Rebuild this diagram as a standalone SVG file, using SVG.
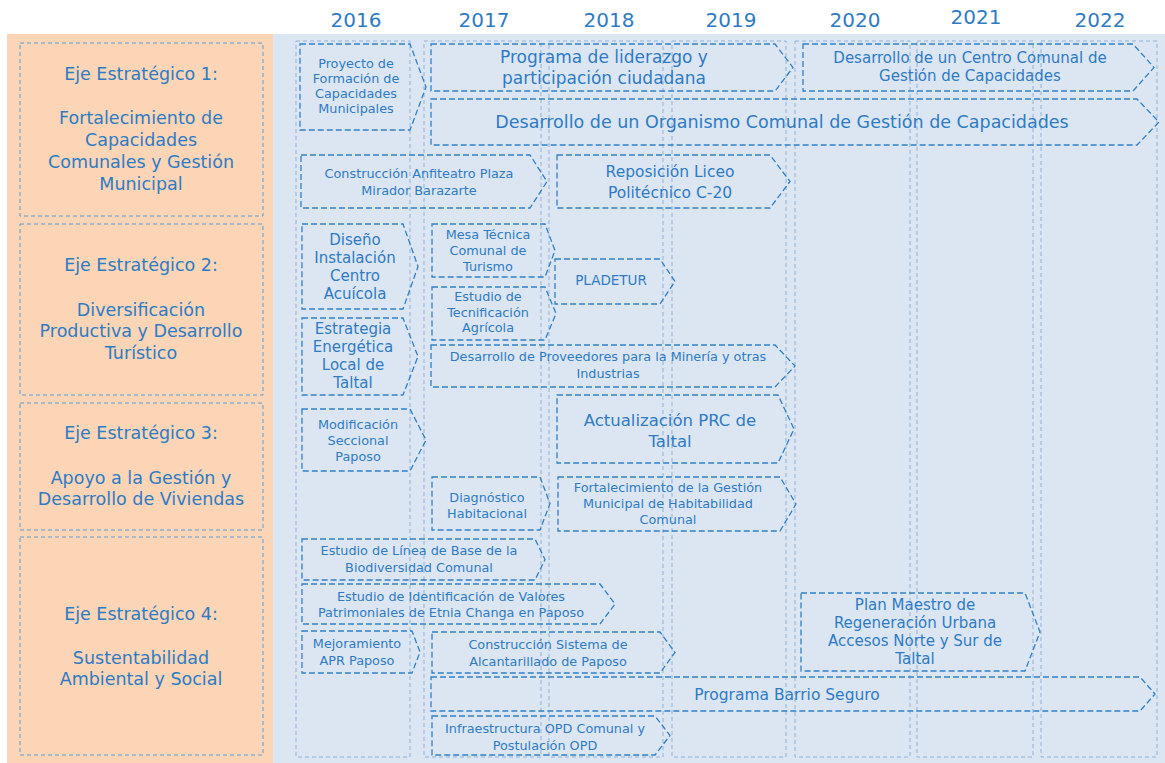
<svg xmlns="http://www.w3.org/2000/svg" width="1165" height="763" viewBox="0 0 1165 763">
<style>
text{font-family:"DejaVu Sans","Liberation Sans",sans-serif;fill:#2E7BC4;text-anchor:middle}
.yr{font-size:20px}
.eje{font-size:17.5px}
.s{font-size:12.8px}
.m{font-size:15px}
.l{font-size:17px}
.col{fill:none;stroke:#8FB1DA;stroke-width:1;stroke-dasharray:4 3}
.ebox{fill:none;stroke:#5B9BD5;stroke-width:1;stroke-dasharray:4 3}
.task polygon{fill:none;stroke:#3080C8;stroke-width:1.3;stroke-dasharray:6 3}
</style>
<rect x="0" y="0" width="1165" height="763" fill="#FFFFFF"/>
<rect x="7" y="34" width="266" height="729" fill="#FBD5B5"/>
<rect x="273" y="34" width="892" height="729" fill="#DCE6F2"/>

<g id="years">
<text class="yr" x="356" y="27">2016</text>
<text class="yr" x="484" y="27">2017</text>
<text class="yr" x="609" y="27">2018</text>
<text class="yr" x="731" y="27">2019</text>
<text class="yr" x="855" y="27">2020</text>
<text class="yr" x="976" y="24">2021</text>
<text class="yr" x="1100" y="27">2022</text>
</g>

<g id="columns">
<rect class="col" x="296" y="41" width="114" height="716"/>
<rect class="col" x="424" y="41" width="117" height="716"/>
<rect class="col" x="549" y="41" width="114" height="716"/>
<rect class="col" x="672" y="41" width="114" height="716"/>
<rect class="col" x="795" y="41" width="115" height="716"/>
<rect class="col" x="917" y="41" width="116" height="716"/>
<rect class="col" x="1041" y="41" width="116" height="716"/>
</g>

<g id="eje1">
<rect class="ebox" x="20" y="43" width="243" height="173"/>
<text class="eje" x="141" y="80">Eje Estratégico 1:</text>
<text class="eje" x="141" y="124">Fortalecimiento de</text>
<text class="eje" x="141" y="146">Capacidades</text>
<text class="eje" x="141" y="168">Comunales y Gestión</text>
<text class="eje" x="141" y="190">Municipal</text>
</g>
<g id="eje2">
<rect class="ebox" x="20" y="224" width="243" height="171"/>
<text class="eje" x="141" y="271">Eje Estratégico 2:</text>
<text class="eje" x="141" y="316">Diversificación</text>
<text class="eje" x="141" y="337">Productiva y Desarrollo</text>
<text class="eje" x="141" y="359">Turístico</text>
</g>
<g id="eje3">
<rect class="ebox" x="20" y="403" width="243" height="127"/>
<text class="eje" x="141" y="439">Eje Estratégico 3:</text>
<text class="eje" x="141" y="484">Apoyo a la Gestión y</text>
<text class="eje" x="141" y="505">Desarrollo de Viviendas</text>
</g>
<g id="eje4">
<rect class="ebox" x="20" y="537" width="243" height="218"/>
<text class="eje" x="141" y="620">Eje Estratégico 4:</text>
<text class="eje" x="141" y="664">Sustentabilidad</text>
<text class="eje" x="141" y="685">Ambiental y Social</text>
</g>

<g id="connectors"></g>

<g id="t-proyecto" class="task">
<polygon points="300,44 410,44 426,87 410,130 300,130"/>
<text class="s" x="356" y="68">Proyecto de</text>
<text class="s" x="356" y="83">Formación de</text>
<text class="s" x="356" y="98">Capacidades</text>
<text class="s" x="356" y="113">Municipales</text>
</g>
<g id="t-liderazgo" class="task">
<polygon points="431,44 775,44 793,67.5 775,91 431,91"/>
<text class="l" x="604" y="63">Programa de liderazgo y</text>
<text class="l" x="604" y="84">participación ciudadana</text>
</g>
<g id="t-centro" class="task">
<polygon points="803,44 1133,44 1154,67.5 1133,91 803,91"/>
<text class="m" x="970" y="63">Desarrollo de un Centro Comunal de</text>
<text class="m" x="970" y="81">Gestión de Capacidades</text>
</g>
<g id="t-organismo" class="task">
<polygon points="431,99 1137,99 1159,122 1137,145 431,145"/>
<text class="l" x="782" y="128" style="font-size:17.5px">Desarrollo de un Organismo Comunal de Gestión de Capacidades</text>
</g>
<g id="t-anfiteatro" class="task">
<polygon points="301,155 530,155 547,181.5 530,208 301,208"/>
<text class="s" x="419" y="178">Construcción  Anfiteatro  Plaza</text>
<text class="s" x="419" y="195">Mirador Barazarte</text>
</g>
<g id="t-liceo" class="task">
<polygon points="557,155 770,155 790,181.5 770,208 557,208"/>
<text class="m" x="670" y="177" style="font-size:15.5px">Reposición Liceo</text>
<text class="m" x="670" y="198" style="font-size:15.5px">Politécnico C-20</text>
</g>
<g id="t-diseno" class="task">
<polygon points="302,224 403,224 418,266.5 403,309 302,309"/>
<text class="m" x="355" y="245">Diseño</text>
<text class="m" x="355" y="263">Instalación</text>
<text class="m" x="355" y="281">Centro</text>
<text class="m" x="355" y="299">Acuícola</text>
</g>
<g id="t-mesa" class="task">
<polygon points="432,224 545,224 555,250.5 545,277 432,277"/>
<text class="s" x="488" y="239">Mesa Técnica</text>
<text class="s" x="488" y="255">Comunal de</text>
<text class="s" x="488" y="271">Turismo</text>
</g>
<g id="t-pladetur" class="task">
<polygon points="555,259 660,259 675,281.5 660,304 555,304"/>
<text class="s" x="611" y="285" style="font-size:13.5px">PLADETUR</text>
</g>
<g id="t-tecnificacion" class="task">
<polygon points="432,287 545,287 556,313.5 545,340 432,340"/>
<text class="s" x="488" y="301">Estudio de</text>
<text class="s" x="488" y="317">Tecnificación</text>
<text class="s" x="488" y="332">Agrícola</text>
</g>
<g id="t-estrategia" class="task">
<polygon points="302,318 403,318 418,356.5 403,395 302,395"/>
<text class="m" x="353" y="334">Estrategia</text>
<text class="m" x="353" y="352">Energética</text>
<text class="m" x="353" y="370">Local de</text>
<text class="m" x="353" y="388">Taltal</text>
</g>
<g id="t-proveedores" class="task">
<polygon points="431,345 775,345 795,366 775,387 431,387"/>
<text class="s" x="608" y="361">Desarrollo  de Proveedores para la Minería y otras</text>
<text class="s" x="608" y="378">Industrias</text>
</g>
<g id="t-modificacion" class="task">
<polygon points="302,409 410,409 426,440 410,471 302,471"/>
<text class="s" x="358" y="429">Modificación</text>
<text class="s" x="358" y="445">Seccional</text>
<text class="s" x="358" y="461">Paposo</text>
</g>
<g id="t-prc" class="task">
<polygon points="557,395 778,395 794,429 778,463 557,463"/>
<text class="m" x="670" y="426" style="font-size:16.5px">Actualización PRC de</text>
<text class="m" x="670" y="447" style="font-size:16.5px">Taltal</text>
</g>
<g id="t-diagnostico" class="task">
<polygon points="432,477 540,477 550,503.5 540,530 432,530"/>
<text class="s" x="487" y="502">Diagnóstico</text>
<text class="s" x="487" y="518">Habitacional</text>
</g>
<g id="t-habitabilidad" class="task">
<polygon points="558,477 780,477 796,504 780,531 558,531"/>
<text class="s" x="668" y="492">Fortalecimiento  de la Gestión</text>
<text class="s" x="668" y="508">Municipal  de Habitabilidad</text>
<text class="s" x="668" y="524">Comunal</text>
</g>
<g id="t-lineabase" class="task">
<polygon points="302,539 535,539 545,559.5 535,580 302,580"/>
<text class="s" x="419" y="555">Estudio de Línea de Base de la</text>
<text class="s" x="419" y="572">Biodiversidad Comunal</text>
</g>
<g id="t-changa" class="task">
<polygon points="302,584 600,584 615,604 600,624 302,624"/>
<text class="s" x="451" y="601">Estudio de Identificación  de Valores</text>
<text class="s" x="451" y="617">Patrimoniales  de Etnia Changa en  Paposo</text>
</g>
<g id="t-apr" class="task">
<polygon points="302,631 412,631 420,652 412,673 302,673"/>
<text class="s" x="357" y="648">Mejoramiento</text>
<text class="s" x="357" y="665">APR Paposo</text>
</g>
<g id="t-alcantarillado" class="task">
<polygon points="432,632 660,632 675,652.5 660,673 432,673"/>
<text class="s" x="548" y="649">Construcción  Sistema de</text>
<text class="s" x="548" y="666">Alcantarillado  de Paposo</text>
</g>
<g id="t-planmaestro" class="task">
<polygon points="801,593 1025,593 1040,632 1025,671 801,671"/>
<text class="m" x="915" y="610">Plan Maestro de</text>
<text class="m" x="915" y="628">Regeneración Urbana</text>
<text class="m" x="915" y="646">Accesos Norte y Sur de</text>
<text class="m" x="915" y="664">Taltal</text>
</g>
<g id="t-barrio" class="task">
<polygon points="431,677 1140,677 1155,694 1140,711 431,711"/>
<text class="m" x="787" y="700" style="font-size:15.5px">Programa Barrio Seguro</text>
</g>
<g id="t-opd" class="task">
<polygon points="432,716 655,716 670,735.5 655,755 432,755"/>
<text class="s" x="545" y="733">Infraestructura  OPD Comunal y</text>
<text class="s" x="545" y="750">Postulación  OPD</text>
</g>
</svg>
